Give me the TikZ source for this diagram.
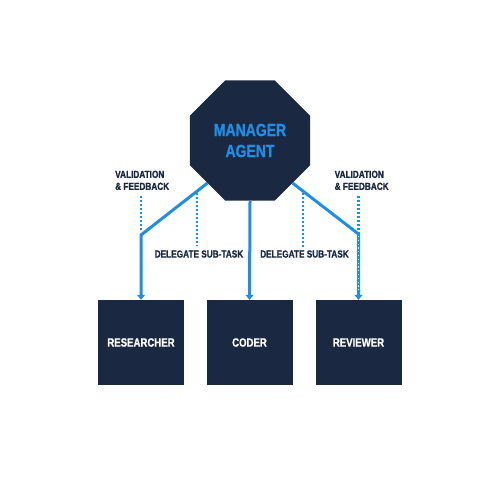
\documentclass[tikz,border=0pt]{standalone}
\usepackage{fontspec}
\setmainfont{Liberation Sans}
\newfontfamily\cf{Liberation Sans}[FakeStretch=0.8, BoldFeatures={FakeBold=0.9}]
\usetikzlibrary{arrows.meta,shapes.geometric}
\definecolor{navy}{HTML}{1B2842}
\definecolor{accent}{HTML}{1E8FE6}
\begin{document}
\begin{tikzpicture}[x=1pt,y=-1pt,
  box/.style={rectangle, fill=navy, minimum width=86pt, minimum height=85pt, inner sep=0pt,
    text=white, font=\cf\bfseries\fontsize{12}{14}\selectfont},
  lbl/.style={text=navy, inner sep=0pt, font=\cf\bfseries\fontsize{10.3}{12}\selectfont},
  conn/.style={draw=accent, line width=3pt, -{Triangle[length=5pt,width=8pt]}},
  dotline/.style={draw=accent, line width=2.1pt, dash pattern=on 2pt off 2pt}]
\fill[white] (0,0) rectangle (500,500);
\useasboundingbox (0,0) rectangle (500,500);

% manager
\node[regular polygon, regular polygon sides=8, minimum size=130pt, inner sep=0pt,
  fill=navy, text=accent, align=center,
  font=\cf\bfseries\fontsize{17.5}{21}\selectfont] (mgr) at (250,140.5) {MANAGER\\AGENT};

% workers
\node[box] (res) at (141,342.5) {RESEARCHER};
\node[box] (cod) at (249.5,342.5) {CODER};
\node[box] (rev) at (358.5,342.5) {REVIEWER};

% labels
\node[lbl, anchor=north west, align=left] (vl) at (115,170.5) {VALIDATION\\\& FEEDBACK};
\node[lbl, anchor=north west, align=left] (vr) at (334.5,170.5) {VALIDATION\\\& FEEDBACK};
\node[lbl] (dl) at (199,254) {DELEGATE SUB-TASK};
\node[lbl] (dr) at (304.5,254) {DELEGATE SUB-TASK};

% bends
\coordinate (bl) at (141,235);
\coordinate (br) at (358.5,234);

% dotted guides
\coordinate (vl1) at (141,196);
\coordinate (vl2) at (141,231);
\coordinate (dl1) at (197,193);
\coordinate (dl2) at (197,246);
\coordinate (dr1) at (303,193);
\coordinate (dr2) at (303,247);
\coordinate (vr1) at (358.5,196);
\draw[dotline] (vl1) -- (vl2);
\draw[dotline] (dl1) -- (dl2);
\draw[dotline] (dr1) -- (dr2);
\draw[dotline] (vr1) -- (br);

% connectors
\draw[conn] (mgr.225) -- (bl) -- (res.north);
\draw[conn] (mgr.south) -- (cod.north);
\draw[conn] (mgr.-45) -- (br) -- (rev.north);
\draw[white, line width=0.9pt, dash pattern=on 1.2pt off 2.6pt] ([yshift=-2pt]br) -- ([yshift=8pt]rev.north);
\end{tikzpicture}
\end{document}
